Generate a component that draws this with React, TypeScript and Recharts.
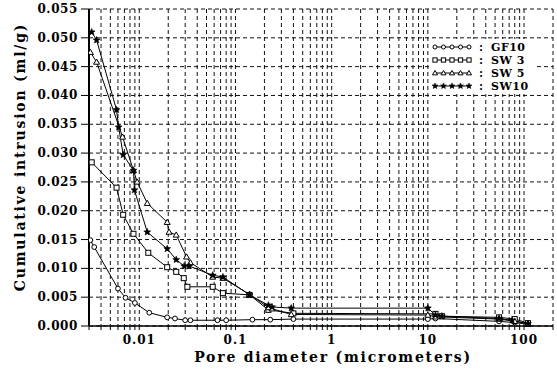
import React from "react";
import { LineChart, Line, XAxis, YAxis, CartesianGrid, Legend, Label } from "recharts";

// ---- data ----
const xTicks = [
  0.003, 0.004, 0.005, 0.006, 0.007, 0.008, 0.009,
  0.01, 0.02, 0.03, 0.04, 0.05, 0.06, 0.07, 0.08, 0.09,
  0.1, 0.2, 0.3, 0.4, 0.5, 0.6, 0.7, 0.8, 0.9,
  1, 2, 3, 4, 5, 6, 7, 8, 9,
  10, 20, 30, 40, 50, 60, 70, 80, 90,
  100, 200,
];
const xTickLabels: Record<string, string> = { "0.01": "0.01", "0.1": "0.1", "1": "1", "10": "10", "100": "100" };
const yTicks = [0, 0.005, 0.01, 0.015, 0.02, 0.025, 0.03, 0.035, 0.04, 0.045, 0.05, 0.055];
const yTickLabels = ["0.000", "0.005", "0.010", "0.015", "0.020", "0.025", "0.030", "0.035", "0.040", "0.045", "0.050", "0.055"];

const seriesNames = ["GF10", "SW 3", "SW 5", "SW10"];

const gf10 = [
  { x: 0.0031, y: 0.0149 }, { x: 0.0034, y: 0.0137 }, { x: 0.006, y: 0.0065 }, { x: 0.0072, y: 0.0049 },
  { x: 0.009, y: 0.004 }, { x: 0.0127, y: 0.0023 }, { x: 0.0195, y: 0.0015 }, { x: 0.0235, y: 0.0013 },
  { x: 0.03, y: 0.001 }, { x: 0.034, y: 0.001 }, { x: 0.065, y: 0.001 }, { x: 0.08, y: 0.001 },
  { x: 0.15, y: 0.0011 }, { x: 0.23, y: 0.0011 }, { x: 0.4, y: 0.0012 }, { x: 10, y: 0.0012 },
  { x: 12, y: 0.0013 }, { x: 55, y: 0.0008 }, { x: 80, y: 0.0006 }, { x: 110, y: 0.0003 },
];
const sw3 = [
  { x: 0.0032, y: 0.0284 }, { x: 0.0058, y: 0.024 }, { x: 0.0068, y: 0.0193 }, { x: 0.0087, y: 0.016 },
  { x: 0.0124, y: 0.0127 }, { x: 0.0195, y: 0.0102 }, { x: 0.0242, y: 0.0094 }, { x: 0.029, y: 0.0083 },
  { x: 0.0316, y: 0.0068 }, { x: 0.058, y: 0.0068 }, { x: 0.074, y: 0.0057 }, { x: 0.14, y: 0.0054 },
  { x: 0.22, y: 0.0028 }, { x: 0.4, y: 0.0022 }, { x: 12, y: 0.0021 }, { x: 14, y: 0.0017 },
  { x: 55, y: 0.0015 }, { x: 80, y: 0.0012 }, { x: 110, y: 0.0005 },
];
const sw5 = [
  { x: 0.0031, y: 0.0475 }, { x: 0.0036, y: 0.0458 }, { x: 0.0067, y: 0.0328 }, { x: 0.0087, y: 0.027 },
  { x: 0.0095, y: 0.025 }, { x: 0.0121, y: 0.0213 }, { x: 0.0195, y: 0.018 }, { x: 0.0204, y: 0.0163 },
  { x: 0.0242, y: 0.0158 }, { x: 0.031, y: 0.012 }, { x: 0.034, y: 0.011 }, { x: 0.058, y: 0.0085 },
  { x: 0.074, y: 0.0083 }, { x: 0.14, y: 0.0055 }, { x: 0.22, y: 0.0032 }, { x: 0.24, y: 0.003 },
  { x: 0.38, y: 0.002 }, { x: 10, y: 0.0019 }, { x: 12, y: 0.0016 }, { x: 55, y: 0.0012 },
  { x: 80, y: 0.0008 }, { x: 110, y: 0.0004 },
];
const sw10 = [
  { x: 0.0032, y: 0.051 }, { x: 0.0036, y: 0.0496 }, { x: 0.0058, y: 0.0375 }, { x: 0.0061, y: 0.0345 },
  { x: 0.0068, y: 0.0297 }, { x: 0.0087, y: 0.027 }, { x: 0.0089, y: 0.0236 }, { x: 0.0121, y: 0.0163 },
  { x: 0.0195, y: 0.0134 }, { x: 0.0242, y: 0.0115 }, { x: 0.0293, y: 0.0104 }, { x: 0.033, y: 0.0104 },
  { x: 0.058, y: 0.0088 }, { x: 0.074, y: 0.0085 }, { x: 0.14, y: 0.0054 }, { x: 0.22, y: 0.0036 },
  { x: 0.24, y: 0.0033 }, { x: 0.38, y: 0.0031 }, { x: 10, y: 0.0031 }, { x: 12, y: 0.0019 },
  { x: 14, y: 0.0017 }, { x: 55, y: 0.0013 }, { x: 75, y: 0.001 }, { x: 110, y: 0.0004 },
];

const FONT = "'DejaVu Serif', serif";

// ---- marker shapes ----
type Sh = { cx: number; cy: number; s?: number };
const CircleM = ({ cx, cy, s = 1 }: Sh) => <circle cx={cx} cy={cy} r={2.4 * s} fill="#fff" stroke="#000" strokeWidth={1} />;
const SquareM = ({ cx, cy, s = 1 }: Sh) => (
  <rect x={cx - 2.5 * s} y={cy - 2.5 * s} width={5 * s} height={5 * s} fill="#fff" stroke="#000" strokeWidth={1} />
);
const TriM = ({ cx, cy, s = 1 }: Sh) => (
  <polygon points={`${cx},${cy - 3 * s} ${cx - 3 * s},${cy + 2.2 * s} ${cx + 3 * s},${cy + 2.2 * s}`} fill="#fff" stroke="#000" strokeWidth={1} />
);
const starPts = (cx: number, cy: number, R: number) => {
  const pts: string[] = [];
  for (let i = 0; i < 10; i++) {
    const r = i % 2 === 0 ? R : R * 0.45;
    const a = -Math.PI / 2 + (i * Math.PI) / 5;
    pts.push(`${cx + r * Math.cos(a)},${cy + r * Math.sin(a)}`);
  }
  return pts.join(" ");
};
const StarM = ({ cx, cy, s = 1 }: Sh) => <polygon points={starPts(cx, cy, 3.6 * s)} fill="#000" stroke="#000" strokeWidth={0.6} />;

const shapes = [CircleM, SquareM, TriM, StarM];
const mkDot = (S: any) => (p: any) => {
  if (p.cx == null || p.cy == null) return <g key={p.index} />;
  return <g key={p.index}><S cx={p.cx} cy={p.cy} /></g>;
};

const XTick = (p: any) => {
  const v = p.payload.value;
  const lab = xTickLabels[String(v)];
  if (!lab) return <g />;
  return (
    <text x={p.x} y={p.y + 12} textAnchor="middle" fontFamily={FONT} fontWeight="bold" fontSize={12} letterSpacing={1} fill="#000">
      {lab}
    </text>
  );
};
const YTick = (p: any) => {
  const i = yTicks.indexOf(p.payload.value);
  return (
    <text x={p.x} y={p.y + 4} textAnchor="end" fontFamily={FONT} fontWeight="bold" fontSize={12} letterSpacing={0.6} fill="#000">
      {yTickLabels[i]}
    </text>
  );
};

const LegendBox = () => {
  const rows = seriesNames.map((n, i) => {
    const S = shapes[i];
    const y = 8 + i * 13;
    return (
      <g key={n}>
        <line x1={5} x2={41} y1={y} y2={y} stroke="#000" strokeWidth={1} />
        {[0, 1, 2, 3, 4].map((j) => (
          <S key={j} cx={6 + j * 8.5} cy={y} s={0.85} />
        ))}
        <text x={50} y={y + 4} fontFamily={FONT} fontWeight="bold" fontSize={11} fill="#000">:</text>
        <text x={62} y={y + 4} fontFamily={FONT} fontWeight="bold" fontSize={11} letterSpacing={0.5} fill="#000">{n}</text>
      </g>
    );
  });
  return (
    <svg width={108} height={55} style={{ display: "block", background: "#fff" }}>
      {rows}
    </svg>
  );
};

export default function App() {
  const all = [gf10, sw3, sw5, sw10];
  return (
    <div style={{ position: "absolute", left: 0, top: 0, width: 557, height: 376, background: "#fff" }}>
      <LineChart width={557} height={376} margin={{ top: 9, right: 4, left: 0, bottom: 0 }}>
        <CartesianGrid stroke="#111" strokeDasharray="4 3" strokeWidth={1} />
        <XAxis
          dataKey="x"
          type="number"
          scale="log"
          domain={[0.003, 200]}
          ticks={xTicks}
          interval={0}
          allowDataOverflow
          height={50}
          tickSize={4}
          tickLine={{ stroke: "#000" }}
          axisLine={{ stroke: "#000", strokeWidth: 1.5 }}
          tick={XTick}
        >
          <Label
            content={() => (
              <text x={333} y={362} textAnchor="middle" fontFamily={FONT} fontWeight="bold" fontSize={14} letterSpacing={1.8} fill="#000">
                Pore diameter (micrometers)
              </text>
            )}
          />
        </XAxis>
        <YAxis
          type="number"
          domain={[0, 0.055]}
          ticks={yTicks}
          interval={0}
          width={89}
          tickSize={8}
          tickMargin={3}
          tickLine={{ stroke: "#000" }}
          axisLine={{ stroke: "#000", strokeWidth: 2 }}
          tick={YTick}
        >
          <Label
            content={() => (
              <text
                x={20}
                y={157}
                transform="rotate(-90 20 157)"
                textAnchor="middle"
                dominantBaseline="central"
                fontFamily={FONT}
                fontWeight="bold"
                fontSize={14}
                letterSpacing={1.8}
                fill="#000"
              >
                Cumulative intrusion (ml/g)
              </text>
            )}
          />
        </YAxis>
        {all.map((d, i) => (
          <Line
            key={seriesNames[i]}
            data={d}
            dataKey="y"
            name={seriesNames[i]}
            type="linear"
            stroke="#000"
            strokeWidth={1}
            dot={mkDot(shapes[i])}
            activeDot={false}
            isAnimationActive={false}
          />
        ))}
        <Legend
          layout="horizontal"
          verticalAlign="middle"
          align="center"
          content={() => <LegendBox />}
          wrapperStyle={{ position: "absolute", left: 429, top: 39, width: 108, height: 55 }}
        />
      </LineChart>
    </div>
  );
}
